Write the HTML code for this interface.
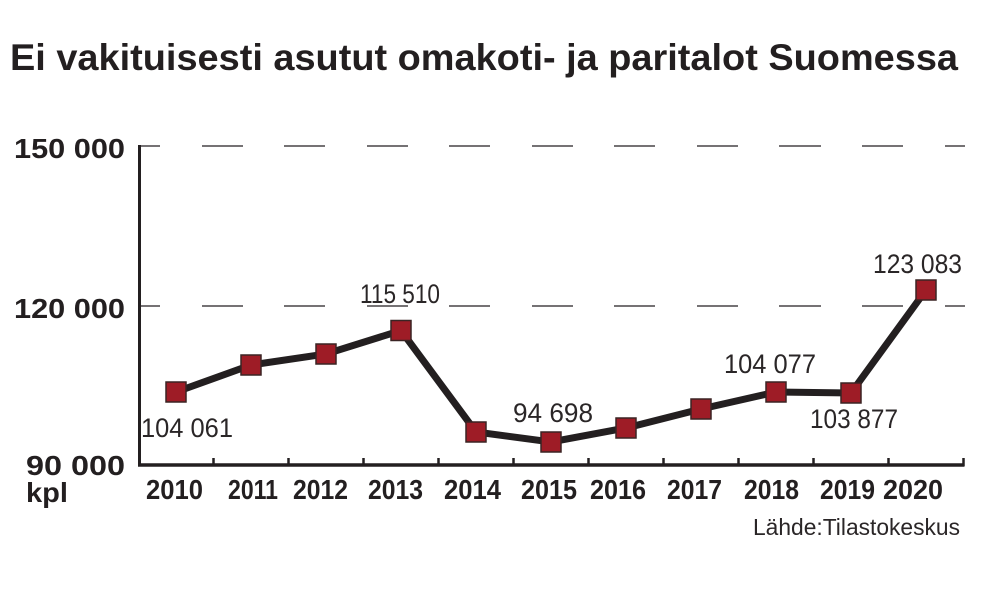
<!DOCTYPE html>
<html>
<head>
<meta charset="utf-8">
<style>
html,body{margin:0;padding:0;background:#fff;}
svg{display:block;}
text{font-family:"Liberation Sans",sans-serif;fill:#231f20;}
.b{font-weight:bold;}
.l{font-weight:normal;fill:#2a2627;}
</style>
</head>
<body>
<svg width="990" height="616" viewBox="0 0 990 616" xmlns="http://www.w3.org/2000/svg">
<rect width="990" height="616" fill="#fff"/>
<!-- Title -->
<text class="b" x="10" y="70" font-size="37" textLength="948" lengthAdjust="spacingAndGlyphs">Ei vakituisesti asutut omakoti- ja paritalot Suomessa</text>

<!-- Gridlines -->
<g stroke="#231f20" stroke-width="1.3">
  <line x1="138" y1="146" x2="160" y2="146"/>
  <line x1="202" y1="146" x2="243" y2="146"/>
  <line x1="284" y1="146" x2="325" y2="146"/>
  <line x1="367" y1="146" x2="408" y2="146"/>
  <line x1="449" y1="146" x2="490" y2="146"/>
  <line x1="532" y1="146" x2="573" y2="146"/>
  <line x1="614" y1="146" x2="655" y2="146"/>
  <line x1="697" y1="146" x2="738" y2="146"/>
  <line x1="779" y1="146" x2="821" y2="146"/>
  <line x1="862" y1="146" x2="903" y2="146"/>
  <line x1="945" y1="146" x2="965" y2="146"/>

  <line x1="138" y1="306" x2="160" y2="306"/>
  <line x1="202" y1="306" x2="243" y2="306"/>
  <line x1="284" y1="306" x2="325" y2="306"/>
  <line x1="367" y1="306" x2="408" y2="306"/>
  <line x1="449" y1="306" x2="490" y2="306"/>
  <line x1="532" y1="306" x2="573" y2="306"/>
  <line x1="614" y1="306" x2="655" y2="306"/>
  <line x1="697" y1="306" x2="738" y2="306"/>
  <line x1="779" y1="306" x2="821" y2="306"/>
  <line x1="862" y1="306" x2="903" y2="306"/>
  <line x1="945" y1="306" x2="965" y2="306"/>
</g>

<!-- Axes -->
<g stroke="#231f20" fill="none">
  <line x1="139.5" y1="145" x2="139.5" y2="466.5" stroke-width="3"/>
  <line x1="138" y1="465" x2="964.5" y2="465" stroke-width="3.5"/>
  <g stroke-width="2.5">
    <line x1="213.5" y1="458" x2="213.5" y2="465"/>
    <line x1="288.5" y1="458" x2="288.5" y2="465"/>
    <line x1="363.5" y1="458" x2="363.5" y2="465"/>
    <line x1="438.5" y1="458" x2="438.5" y2="465"/>
    <line x1="513.5" y1="458" x2="513.5" y2="465"/>
    <line x1="588.5" y1="458" x2="588.5" y2="465"/>
    <line x1="663.5" y1="458" x2="663.5" y2="465"/>
    <line x1="738.5" y1="458" x2="738.5" y2="465"/>
    <line x1="813.5" y1="458" x2="813.5" y2="465"/>
    <line x1="888.5" y1="458" x2="888.5" y2="465"/>
    <line x1="963.5" y1="458" x2="963.5" y2="466"/>
  </g>
</g>

<!-- Y labels -->
<text class="b" x="14" y="158" font-size="28" textLength="111" lengthAdjust="spacingAndGlyphs">150 000</text>
<text class="b" x="14" y="318" font-size="28" textLength="111" lengthAdjust="spacingAndGlyphs">120 000</text>
<text class="b" x="26" y="475" font-size="28" textLength="99" lengthAdjust="spacingAndGlyphs">90 000</text>
<text class="b" x="26" y="502" font-size="28" textLength="42" lengthAdjust="spacingAndGlyphs">kpl</text>

<!-- X labels -->
<g class="b" font-size="28">
  <text class="b" x="146" y="499" textLength="57" lengthAdjust="spacingAndGlyphs">2010</text>
  <text class="b" x="228" y="499" textLength="50" lengthAdjust="spacingAndGlyphs">2011</text>
  <text class="b" x="293" y="499" textLength="55" lengthAdjust="spacingAndGlyphs">2012</text>
  <text class="b" x="368" y="499" textLength="55" lengthAdjust="spacingAndGlyphs">2013</text>
  <text class="b" x="444" y="499" textLength="57" lengthAdjust="spacingAndGlyphs">2014</text>
  <text class="b" x="521" y="499" textLength="56" lengthAdjust="spacingAndGlyphs">2015</text>
  <text class="b" x="590" y="499" textLength="56" lengthAdjust="spacingAndGlyphs">2016</text>
  <text class="b" x="667" y="499" textLength="55" lengthAdjust="spacingAndGlyphs">2017</text>
  <text class="b" x="744" y="499" textLength="55" lengthAdjust="spacingAndGlyphs">2018</text>
  <text class="b" x="820" y="499" textLength="55" lengthAdjust="spacingAndGlyphs">2019</text>
  <text class="b" x="883" y="499" textLength="60" lengthAdjust="spacingAndGlyphs">2020</text>
</g>

<!-- Series line -->
<polyline fill="none" stroke="#231f20" stroke-width="7" stroke-linejoin="miter"
  points="176,392 251,365 326,354 401,330.5 476,432 551,442 626,428 701,409 776,392 851,393 926,290"/>

<!-- Markers -->
<g fill="#9e1c26" stroke="#3a2424" stroke-width="1.5">
  <rect x="166" y="382" width="20" height="20"/>
  <rect x="241" y="355" width="20" height="20"/>
  <rect x="316" y="344" width="20" height="20"/>
  <rect x="391" y="320.5" width="20" height="20"/>
  <rect x="466" y="422" width="20" height="20"/>
  <rect x="541" y="432" width="20" height="20"/>
  <rect x="616" y="418" width="20" height="20"/>
  <rect x="691" y="399" width="20" height="20"/>
  <rect x="766" y="382" width="20" height="20"/>
  <rect x="841" y="383" width="20" height="20"/>
  <rect x="916" y="280" width="20" height="20"/>
</g>

<!-- Data labels -->
<g font-size="27">
  <text class="l" x="141" y="437" textLength="92" lengthAdjust="spacingAndGlyphs">104 061</text>
  <text class="l" x="360" y="303" textLength="80" lengthAdjust="spacingAndGlyphs">115 510</text>
  <text class="l" x="513" y="422" textLength="80" lengthAdjust="spacingAndGlyphs">94 698</text>
  <text class="l" x="724" y="373" textLength="92" lengthAdjust="spacingAndGlyphs">104 077</text>
  <text class="l" x="810" y="428" textLength="88" lengthAdjust="spacingAndGlyphs">103 877</text>
  <text class="l" x="873" y="273" textLength="89" lengthAdjust="spacingAndGlyphs">123 083</text>
</g>

<!-- Source -->
<text class="l" x="753" y="535" font-size="23" textLength="207" lengthAdjust="spacingAndGlyphs">Lähde:Tilastokeskus</text>
</svg>
</body>
</html>
